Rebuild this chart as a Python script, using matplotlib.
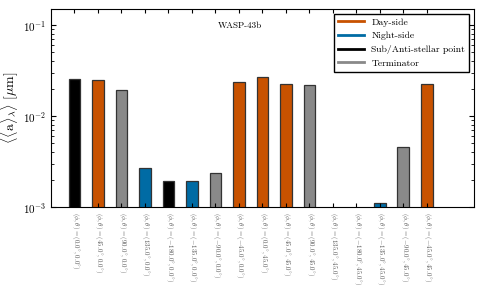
import numpy as np
import matplotlib
matplotlib.use("Agg")
import matplotlib.pyplot as plt
from matplotlib.lines import Line2D

plt.rcParams['font.family'] = 'serif'
plt.rcParams['font.serif'] = ['cmr10']
plt.rcParams['mathtext.fontset'] = 'cm'
plt.rcParams['axes.formatter.use_mathtext'] = True

# (phi, theta) pairs of each location
phi = ["0.0", "45.0", "90.0", "135.0", "-180.0", "-135.0", "-90.0", "-45.0",
       "0.0", "45.0", "90.0", "135.0", "-180.0", "-135.0", "-90.0", "-45.0"]
theta = ["0.0"] * 8 + ["45.0"] * 8
# region of each location
region = ["sub", "day", "term", "night", "sub", "night", "term", "day",
          "day", "day", "term", "night", "sub", "night", "term", "day"]
# mean particle size (um), nan = not shown
size_um = [0.0255, 0.0250, 0.0193, 0.0027, 0.00193, 0.00193, 0.00235, 0.0236,
           0.0268, 0.0225, 0.0218, np.nan, np.nan, 0.0011, 0.00453, 0.0223]

colors = {"day": "#C85200", "night": "#006BA4", "sub": "black", "term": "#898989"}
names = {"day": "Day-side", "night": "Night-side", "sub": "Sub/Anti-stellar point",
         "term": "Terminator"}

labels = [r"$(\phi, \theta) = (%s^{\circ}, %s^{\circ})$" % (p, t) for p, t in zip(phi, theta)]

fig = plt.figure(figsize=(4.83, 2.90), dpi=100)
ax = fig.add_axes([0.1056, 0.286, 0.8754, 0.683])

x = np.arange(len(size_um))
ax.bar(x, size_um, width=0.5, color=[colors[r] for r in region],
       edgecolor="#333333", linewidth=0.9)
ax.set_yscale("log")
ax.set_ylim(1e-3, 0.15)
ax.set_xlim(-1, 17)
ax.set_xticks(x)
ax.set_xticklabels(labels, rotation=270, fontsize=5, color="#555555")
ax.tick_params(which="both", direction="in", top=True, right=True, labelsize=8)
ax.tick_params(axis="x", labelsize=5, length=3)
ax.set_ylabel(r"$\langle \langle \mathrm{a} \rangle_\lambda \rangle\ [\mu\mathrm{m}]$",
              fontsize=10, labelpad=1)

ax.text(0.447, 0.915, "WASP-43b", transform=ax.transAxes, ha="center", va="center", fontsize=6.5)

handles = [Line2D([], [], color=colors[k], lw=2) for k in ["day", "night", "sub", "term"]]
ax.legend(handles, [names[k] for k in ["day", "night", "sub", "term"]], loc="upper right",
          fontsize=7, fancybox=False, edgecolor="black", framealpha=1, handlelength=2.6)

fig.savefig("out.png", dpi=100)
